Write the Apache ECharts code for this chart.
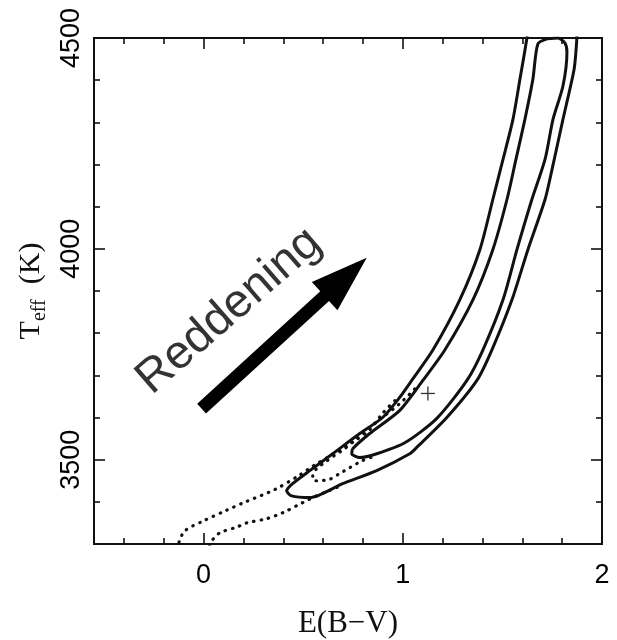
<!DOCTYPE html>
<html>
<head>
<meta charset="utf-8">
<script src="https://cdn.jsdelivr.net/npm/echarts@6/dist/echarts.min.js"></script>
<style>
    html, body {margin: 0; padding: 0; background: #fff;}
    #chart {width: 617px; height: 640px;}
</style>
</head>
<body>
<div id="chart"></div>
<script>
// Axis ranges and ticks
const xRange = [-0.55, 2];
const yRange = [3300, 4500];
const xMajorTicks = [0, 1, 2];
const xMinorTicks = [-0.4, -0.2, 0.2, 0.4, 0.6, 0.8, 1.2, 1.4, 1.6, 1.8];
const yMajorTicks = [3500, 4000, 4500];
const yMinorTicks = [3400, 3600, 3700, 3800, 3900, 4100, 4200, 4300, 4400];

// Solid contours (E(B-V), Teff)
const outerContour = [
    [1.628, 4533], [1.623, 4500], [1.588, 4402], [1.553, 4307], [1.503, 4212],
    [1.452, 4117], [1.387, 3998], [1.286, 3879], [1.151, 3760], [1.045, 3688],
    [0.985, 3648], [0.899, 3600], [0.784, 3562], [0.648, 3514], [0.533, 3474],
    [0.447, 3443], [0.417, 3426], [0.442, 3414], [0.533, 3410], [0.698, 3443],
    [0.869, 3474], [1.035, 3514], [1.070, 3529], [1.221, 3600], [1.372, 3688],
    [1.447, 3760], [1.548, 3879], [1.628, 3998], [1.714, 4117], [1.749, 4188],
    [1.804, 4307], [1.860, 4426], [1.872, 4486], [1.876, 4533],
];
const innerContour = [
    [1.724, 4498], [1.678, 4486], [1.653, 4402], [1.613, 4307], [1.568, 4212],
    [1.523, 4117], [1.452, 3998], [1.352, 3879], [1.211, 3760], [1.101, 3688],
    [0.985, 3617], [0.834, 3562], [0.749, 3526], [0.744, 3514], [0.784, 3505],
    [0.869, 3514], [1.010, 3540], [1.171, 3598], [1.322, 3688], [1.402, 3760],
    [1.503, 3879], [1.573, 3998], [1.648, 4117], [1.714, 4212], [1.754, 4307],
    [1.804, 4386], [1.824, 4467], [1.814, 4488], [1.779, 4500], [1.724, 4498],
];

// Dotted contours
const dottedOuterUpper = [
    [0.960, 3640], [0.899, 3610], [0.834, 3571], [0.754, 3543], [0.653, 3514],
    [0.553, 3486], [0.477, 3462], [0.357, 3429], [0.201, 3398], [0.111, 3379],
    [0.0, 3355], [-0.095, 3331], [-0.121, 3307], [-0.13, 3296],
];
const dottedOuterLower = [
    [0.03, 3296], [0.040, 3307], [0.080, 3326], [0.166, 3340], [0.216, 3350],
    [0.317, 3360], [0.397, 3374], [0.497, 3398], [0.558, 3412], [0.698, 3440],
];
const dottedInner = [
    [1.060, 3668], [0.985, 3633], [0.869, 3590], [0.769, 3552], [0.709, 3526],
    [0.658, 3510], [0.608, 3493], [0.568, 3479], [0.548, 3462], [0.553, 3450],
    [0.623, 3452], [0.683, 3467], [0.734, 3481], [0.799, 3498], [0.869, 3510],
];

const bestFit = [[1.126, 3657]];
const reddeningArrow = [[-0.01, 3621, 0.819, 3979]];
const reddeningLabel = [[0.128, 3852]];

const ink = '#111';

function xAxisDef(position, ticks, len, withLabels) {
    return {
        type: 'value', position, min: xRange[0], max: xRange[1],
        axisLine: {show: true, onZero: false, lineStyle: {color: ink, width: 2}},
        axisTick: {show: true, inside: true, length: len, customValues: ticks,
            lineStyle: {color: ink, width: 1.6}},
        axisLabel: withLabels ? {
            customValues: xMajorTicks, margin: 18, fontSize: 27,
            fontFamily: 'Liberation Sans', color: '#000',
            formatter: v => String(v),
        } : {show: false},
        splitLine: {show: false},
    };
}

function yAxisDef(position, ticks, len, withLabels) {
    return {
        type: 'value', position, min: yRange[0], max: yRange[1],
        axisLine: {show: true, onZero: false, lineStyle: {color: ink, width: 2}},
        axisTick: {show: true, inside: true, length: len, customValues: ticks,
            lineStyle: {color: ink, width: 1.6}},
        axisLabel: withLabels ? {
            customValues: yMajorTicks, rotate: 90, margin: 9, fontSize: 27,
            fontFamily: 'Liberation Sans', color: '#000',
            formatter: v => String(v),
        } : {show: false},
        splitLine: {show: false},
    };
}

const chart = echarts.init(document.getElementById('chart'));

const xBottom = xAxisDef('bottom', xMinorTicks, 6, true);
xBottom.name = 'E(B\u2212V)';
xBottom.nameLocation = 'middle';
xBottom.nameGap = 64;
xBottom.nameTextStyle = {fontFamily: 'Liberation Serif', fontSize: 31, color: ink};

const yLeft = yAxisDef('left', yMinorTicks, 6, true);
yLeft.name = 'T{s|eff}  (K)';
yLeft.nameLocation = 'middle';
yLeft.nameGap = 44;
yLeft.nameTextStyle = {
    fontFamily: 'Liberation Serif', fontSize: 30, color: ink,
    rich: {s: {fontFamily: 'Liberation Serif', fontSize: 20, color: ink,
        verticalAlign: 'bottom', padding: [18, 0, 0, 0]}},
};

const solid = {color: ink, width: 3};
const dotted = {color: ink, width: 3.2, type: [0.5, 7], cap: 'round'};

chart.setOption({
    animation: false,
    backgroundColor: '#fff',
    grid: {left: 94, right: 15, top: 38, bottom: 96, outerBoundsMode: 'none', containLabel: false},
    xAxis: [
        xBottom,
        xAxisDef('bottom', xMajorTicks, 11, false),
        xAxisDef('top', xMinorTicks, 6, false),
        xAxisDef('top', xMajorTicks, 11, false),
    ],
    yAxis: [
        yLeft,
        yAxisDef('left', yMajorTicks, 11, false),
        yAxisDef('right', yMinorTicks, 6, false),
        yAxisDef('right', yMajorTicks, 11, false),
    ],
    series: [
        {type: 'line', data: outerContour, showSymbol: false, smooth: 0.25, lineStyle: solid, silent: true},
        {type: 'line', data: innerContour, showSymbol: false, smooth: 0.25, lineStyle: solid, silent: true},
        {type: 'line', data: dottedOuterUpper, showSymbol: false, smooth: 0.3, lineStyle: dotted, silent: true},
        {type: 'line', data: dottedOuterLower, showSymbol: false, smooth: 0.3, lineStyle: dotted, silent: true},
        {type: 'line', data: dottedInner, showSymbol: false, smooth: 0.3, lineStyle: dotted, silent: true},
        {
            type: 'custom', data: bestFit, silent: true,
            renderItem(params, api) {
                const p = api.coord([api.value(0), api.value(1)]);
                const h = 7;
                const style = {stroke: '#333', lineWidth: 1.3};
                return {type: 'group', children: [
                    {type: 'line', shape: {x1: p[0] - h, y1: p[1], x2: p[0] + h, y2: p[1]}, style},
                    {type: 'line', shape: {x1: p[0], y1: p[1] - h, x2: p[0], y2: p[1] + h}, style},
                ]};
            },
        },
        {
            type: 'custom', data: reddeningArrow, silent: true,
            encode: {x: [0, 2], y: [1, 3]},
            renderItem(params, api) {
                const a = api.coord([api.value(0), api.value(1)]);
                const b = api.coord([api.value(2), api.value(3)]);
                const dx = b[0] - a[0], dy = b[1] - a[1];
                const len = Math.hypot(dx, dy);
                const ux = dx / len, uy = dy / len;
                const nx = -uy, ny = ux;
                const shaftW = 6.5, headW = 19, headL = 57;
                const bx = b[0] - ux * headL, by = b[1] - uy * headL;
                const pts = [
                    [a[0] + nx * shaftW, a[1] + ny * shaftW],
                    [bx + nx * shaftW, by + ny * shaftW],
                    [bx + nx * headW, by + ny * headW],
                    [b[0], b[1]],
                    [bx - nx * headW, by - ny * headW],
                    [bx - nx * shaftW, by - ny * shaftW],
                    [a[0] - nx * shaftW, a[1] - ny * shaftW],
                ];
                return {type: 'polygon', shape: {points: pts}, style: {fill: '#000'}};
            },
        },
        {
            type: 'scatter', data: reddeningLabel, symbolSize: 0, silent: true,
            label: {
                show: true, position: 'inside', formatter: 'Reddening', rotate: 41,
                fontSize: 47, fontFamily: 'Liberation Sans', color: '#000',
            },
        },
    ],
});
</script>
</body>
</html>
